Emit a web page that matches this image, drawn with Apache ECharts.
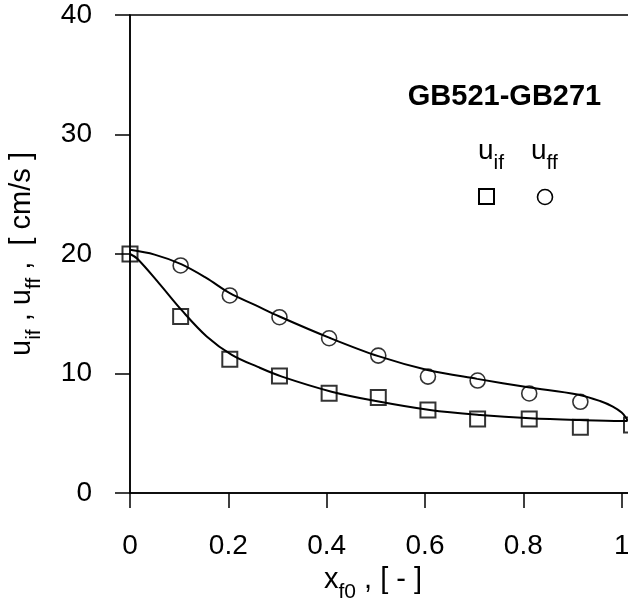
<!DOCTYPE html>
<html>
<head>
<meta charset="utf-8">
<script src="https://cdn.jsdelivr.net/npm/echarts@6/dist/echarts.min.js"></script>
<style>
html,body{margin:0;padding:0;background:#fff;}
#chart{width:628px;height:602px;}
</style>
</head>
<body>
<div id="chart"></div>
<script>
// ---- data ----
const xTicks = [0, 0.2, 0.4, 0.6, 0.8, 1.0];
const yTicks = [0, 10, 20, 30, 40];

// measured points u_if (squares)
const xIf = [0, 0.103, 0.203, 0.304, 0.405, 0.505, 0.606, 0.707, 0.812, 0.916, 1.02];
const uIf = [20.0, 14.77, 11.2, 9.8, 8.35, 8.0, 6.95, 6.2, 6.2, 5.5, 5.7];

// measured points u_ff (circles)
const xFf = [0.103, 0.203, 0.304, 0.405, 0.505, 0.606, 0.707, 0.812, 0.916];
const uFf = [19.04, 16.53, 14.71, 12.95, 11.5, 9.74, 9.41, 8.33, 7.63];

// fitted curve through u_ff (upper)
const fitFfX = [0, 0.05, 0.104, 0.155, 0.203, 0.255, 0.304, 0.405, 0.505, 0.605, 0.706, 0.81, 0.91, 0.956, 0.982, 1.0, 1.009, 1.012];
const fitFfY = [20.35, 19.95, 19.15, 18.0, 16.72, 15.72, 14.77, 13.0, 11.45, 10.3, 9.55, 8.85, 8.25, 7.7, 7.23, 6.73, 6.28, 6.03];

// fitted curve through u_if (lower)
const fitIfX = [0, 0.015, 0.06, 0.105, 0.156, 0.207, 0.26, 0.309, 0.41, 0.5, 0.61, 0.712, 0.814, 0.915, 1.0, 1.012];
const fitIfY = [20.0, 19.6, 17.5, 15.3, 13.1, 11.56, 10.55, 9.74, 8.48, 7.7, 6.95, 6.53, 6.25, 6.1, 6.03, 6.03];

const FONT = '"Liberation Sans", Arial, Helvetica, sans-serif';

function zip(a, b) { return a.map((v, i) => [v, b[i]]); }

const chart = echarts.init(document.getElementById('chart'), null, {renderer: 'canvas'});

const subRich = {
  m: { fontSize: 29, fontFamily: FONT, color: '#000' },
  s: { fontSize: 21, fontFamily: FONT, color: '#000', padding: [24, 0, 0, 0] }
};
const legRich = {
  m: { fontSize: 28, fontFamily: FONT, color: '#000' },
  s: { fontSize: 21, fontFamily: FONT, color: '#000', padding: [24, 0, 0, 0] }
};

chart.setOption({
  animation: false,
  backgroundColor: '#fff',
  grid: {
    left: 130, top: 15, right: -92, bottom: 109,
    outerBoundsMode: 'none', containLabel: false,
    show: true, borderColor: '#000', borderWidth: 1.5, backgroundColor: 'transparent'
  },
  xAxis: {
    type: 'value', min: 0, max: 1.2, interval: 0.2,
    axisLine: { show: true, lineStyle: { color: '#000', width: 1.5 } },
    axisTick: { show: true, inside: false, length: 15, lineStyle: { color: '#000', width: 1.5 } },
    splitLine: { show: false },
    axisLabel: {
      margin: 39, color: '#000', fontSize: 28, fontFamily: FONT,
      formatter: v => xTicks.some(t => Math.abs(t - v) < 1e-9) ? String(+v.toFixed(1)) : ''
    }
  },
  yAxis: {
    type: 'value', min: 0, max: 40, interval: 10,
    axisLine: { show: true, lineStyle: { color: '#000', width: 1.5 } },
    axisTick: { show: true, inside: false, length: 15, lineStyle: { color: '#000', width: 1.5 } },
    splitLine: { show: false },
    axisLabel: {
      margin: 38, color: '#000', fontSize: 28, fontFamily: FONT,
      formatter: v => yTicks.includes(v) ? String(v) : ''
    }
  },
  series: [
    {
      name: 'fit_uff', type: 'line', data: zip(fitFfX, fitFfY), smooth: 0.35,
      showSymbol: false, symbol: 'none', lineStyle: { color: '#000', width: 2 }, z: 2
    },
    {
      name: 'fit_uif', type: 'line', data: zip(fitIfX, fitIfY), smooth: 0.35,
      showSymbol: false, symbol: 'none', lineStyle: { color: '#000', width: 2 }, z: 2
    },
    {
      name: 'u_if', type: 'scatter', data: zip(xIf, uIf), symbol: 'rect', symbolSize: 15,
      itemStyle: { color: 'rgba(0,0,0,0)', borderColor: '#000', borderWidth: 2 }, z: 3
    },
    {
      name: 'u_ff', type: 'scatter', data: zip(xFf, uFf), symbol: 'circle', symbolSize: 15,
      itemStyle: { color: 'rgba(0,0,0,0)', borderColor: '#000', borderWidth: 1.6 }, z: 3
    }
  ],
  graphic: [
    {
      type: 'text', x: 504.5, y: 97,
      style: { text: 'GB521-GB271', font: 'bold 29px ' + FONT, fill: '#000', align: 'center', verticalAlign: 'middle' }
    },
    {
      type: 'text', x: 478, y: 151,
      style: { text: '{m|u}{s|if}', rich: legRich, align: 'left', verticalAlign: 'middle' }
    },
    {
      type: 'text', x: 531, y: 151,
      style: { text: '{m|u}{s|ff}', rich: legRich, align: 'left', verticalAlign: 'middle' }
    },
    {
      type: 'rect', shape: { x: 479, y: 189, width: 15, height: 15 },
      style: { fill: 'none', stroke: '#000', lineWidth: 2 }
    },
    {
      type: 'circle', shape: { cx: 545, cy: 197, r: 7.5 },
      style: { fill: 'none', stroke: '#000', lineWidth: 1.6 }
    },
    {
      type: 'text', x: 373, y: 580,
      style: { text: '{m|x}{s|f0}{m| , [ - ]}', rich: subRich, align: 'center', verticalAlign: 'middle' }
    },
    {
      type: 'text', x: 22, y: 254, rotation: Math.PI / 2,
      style: { text: '{m|u}{s|if}{m| , u}{s|ff}{m| ,  [ cm/s ]}', rich: subRich, align: 'center', verticalAlign: 'middle' }
    }
  ]
});
</script>
</body>
</html>
